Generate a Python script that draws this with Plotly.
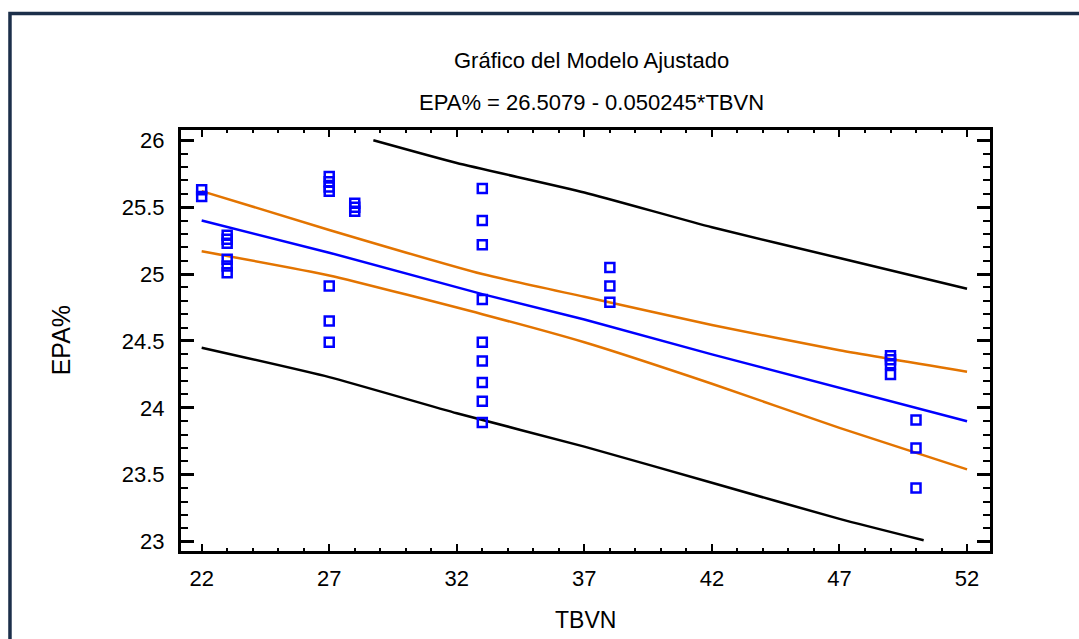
import plotly.graph_objects as go

# ---- data ----
pts_x = [22, 22,
         23, 23, 23, 23, 23, 23,
         27, 27, 27, 27, 27, 27, 27,
         28, 28, 28,
         33, 33, 33, 33, 33, 33, 33, 33, 33,
         38, 38, 38,
         49, 49, 49, 49,
         50, 50, 50]
pts_y = [25.63, 25.58,
         25.29, 25.26, 25.23, 25.11, 25.06, 25.01,
         25.73, 25.69, 25.65, 25.62, 24.91, 24.65, 24.49,
         25.53, 25.50, 25.47,
         25.64, 25.40, 25.22, 24.81, 24.49, 24.35, 24.19, 24.05, 23.89,
         25.05, 24.91, 24.79,
         24.39, 24.36, 24.33, 24.25,
         23.91, 23.70, 23.40]

band_x = [22, 27, 33, 37, 42, 47, 52]
fit_y = [25.40, 25.16, 24.85, 24.66, 24.40, 24.15, 23.90]
conf_upper = [25.62, 25.33, 25.00, 24.83, 24.62, 24.43, 24.27]
conf_lower = [25.17, 24.99, 24.70, 24.49, 24.18, 23.85, 23.54]

pred_upper_x = [28.73, 32, 37, 42, 47, 52]
pred_upper_y = [26.00, 25.83, 25.61, 25.35, 25.12, 24.89]
pred_lower_x = [22, 27, 32, 37, 42, 47, 50.3]
pred_lower_y = [24.45, 24.23, 23.96, 23.71, 23.44, 23.17, 23.01]

title_line1 = "Gráfico del Modelo Ajustado"
title_line2 = "EPA% = 26.5079 - 0.050245*TBVN"
x_title = "TBVN"
y_title = "EPA%"

FONT = "Liberation Sans, Arial"
ORANGE = "#e37400"
BLUE = "#0000ff"
LW = 2.5

fig = go.Figure()
fig.add_trace(go.Scatter(x=pred_upper_x, y=pred_upper_y, mode="lines",
                         line=dict(color="black", width=LW, shape="spline", smoothing=0.5)))
fig.add_trace(go.Scatter(x=pred_lower_x, y=pred_lower_y, mode="lines",
                         line=dict(color="black", width=LW, shape="spline", smoothing=0.5)))
fig.add_trace(go.Scatter(x=band_x, y=conf_upper, mode="lines",
                         line=dict(color=ORANGE, width=LW, shape="spline", smoothing=0.5)))
fig.add_trace(go.Scatter(x=band_x, y=conf_lower, mode="lines",
                         line=dict(color=ORANGE, width=LW, shape="spline", smoothing=0.5)))
fig.add_trace(go.Scatter(x=band_x, y=fit_y, mode="lines",
                         line=dict(color=BLUE, width=LW)))
fig.add_trace(go.Scatter(x=pts_x, y=pts_y, mode="markers",
                         marker=dict(symbol="square-open", size=9, color=BLUE,
                                     line=dict(width=2.5, color=BLUE))))

axis_common = dict(showline=True, linewidth=3, linecolor="black", mirror="ticks",
                   showgrid=False, zeroline=False, ticks="inside",
                   tickcolor="black", tickfont=dict(family=FONT, size=22, color="black"))

fig.update_xaxes(range=[21.19, 52.90], tick0=22, dtick=5, ticklen=7, tickwidth=2,
                 minor=dict(dtick=1, ticks="inside", ticklen=3, tickwidth=2,
                            tickcolor="black", showgrid=False),
                 ticklabelstandoff=6, **axis_common)
fig.update_yaxes(range=[22.93, 26.077], tick0=23, dtick=0.5, ticklen=13, tickwidth=3,
                 minor=dict(dtick=0.1, ticks="inside", ticklen=7, tickwidth=2,
                            tickcolor="black", showgrid=False),
                 ticklabelstandoff=9, **axis_common)

annots = [
    dict(text=title_line1, x=0.507, y=1.166, font=dict(size=22)),
    dict(text=title_line2, x=0.507, y=1.0665, font=dict(size=22)),
    dict(text=x_title, x=0.4994, y=-0.164, font=dict(size=23)),
    dict(text=y_title, x=-0.148, y=0.501, textangle=-90, font=dict(size=25)),
]
for a in annots:
    a["font"].update(family=FONT, color="black")
    fig.add_annotation(xref="paper", yref="paper", showarrow=False,
                       xanchor="center", yanchor="middle", **a)

fig.add_shape(type="rect", xref="paper", yref="paper",
              x0=-0.2114, x1=1.3, y0=-0.4, y1=1.2767,
              line=dict(color="#1c2f4a", width=3.5), layer="below")

fig.update_layout(width=1079, height=639, showlegend=False,
                  paper_bgcolor="white", plot_bgcolor="white",
                  margin=dict(l=181, r=89, t=130, b=88))

fig.write_html("out.html")
